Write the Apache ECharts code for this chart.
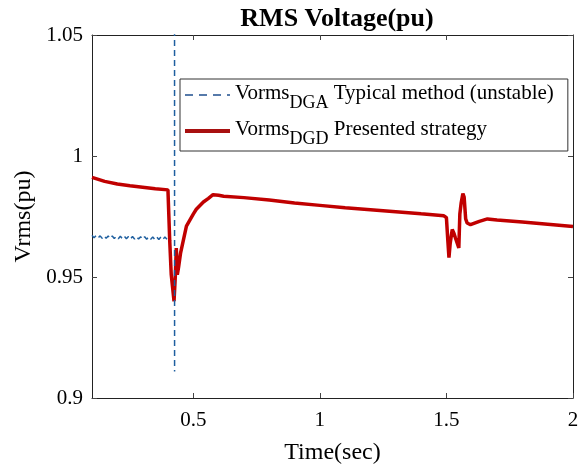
<!DOCTYPE html>
<html>
<head>
<meta charset="utf-8">
<script src="https://cdn.jsdelivr.net/npm/echarts@6/dist/echarts.min.js"></script>
<style>
html,body{margin:0;padding:0;background:#fff;}
#c{width:583px;height:470px;}
</style>
</head>
<body>
<div id="c"></div>
<script>
// ---- data ----
var xTicks = [0.5, 1, 1.5, 2];
var yTicks = [0.9, 0.95, 1, 1.05];

// Typical method (unstable): steady sawtooth, then divergence
var blueTime = [0.100,0.108,0.116,0.124,0.132,0.140,0.148,0.156,0.164,0.172,
                0.180,0.188,0.196,0.204,0.212,0.220,0.228,0.236,0.244,0.252,
                0.260,0.268,0.276,0.284,0.292,0.300,0.308,0.316,0.324,0.332,
                0.340,0.348,0.356,0.364,0.372,0.380,0.388,0.396];
var blueVolt = [0.9672,0.9662,0.9671,0.9661,0.9670,0.9660,0.9670,0.9660,0.9669,0.9659,
                0.9669,0.9659,0.9668,0.9658,0.9668,0.9658,0.9668,0.9658,0.9667,0.9657,
                0.9667,0.9657,0.9667,0.9657,0.9666,0.9656,0.9666,0.9656,0.9666,0.9656,
                0.9665,0.9655,0.9665,0.9655,0.9665,0.9655,0.9665,0.9656];
var blueSpikeTime = [0.4258, 0.4262];
var blueSpikeVolt = [1.30, 0.911];

// Presented strategy
var redTime = [0.10,0.15,0.20,0.25,0.30,0.35,0.40,0.402,0.407,0.413,0.419,0.424,0.429,0.433,0.437,0.442,
               0.45,0.473,0.50,0.512,0.54,0.56,0.578,0.60,0.62,0.70,0.80,0.90,1.00,1.10,1.20,1.30,1.40,
               1.49,1.50,1.505,1.51,1.515,1.523,1.53,1.536,1.542,1.549,1.553,1.558,1.565,1.570,1.576,
               1.582,1.595,1.63,1.662,1.70,1.80,1.90,2.00];
var redVolt = [0.9912,0.9895,0.9884,0.9877,0.9871,0.9865,0.9860,0.9860,0.9650,0.9510,0.9450,0.9400,0.9500,0.9620,0.9510,0.9540,
               0.9600,0.9710,0.9760,0.9780,0.9810,0.9825,0.9840,0.9838,0.9834,0.9828,0.9818,0.9806,0.9796,0.9786,0.9778,0.9770,0.9761,
               0.9753,0.9745,0.9660,0.9580,0.9640,0.9696,0.9680,0.9660,0.9665,0.9620,0.9760,0.9804,0.9845,0.9830,0.9740,
               0.9723,0.9716,0.9730,0.9740,0.9736,0.9727,0.9718,0.9709];

function pairs(t, v) { return t.map(function (x, i) { return [x, v[i]]; }); }

var blueData = pairs(blueTime, blueVolt).concat([[0.41, '-']]).concat(pairs(blueSpikeTime, blueSpikeVolt));
var redData = pairs(redTime, redVolt);

var FONT = 'Liberation Serif';
var chart = echarts.init(document.getElementById('c'), null, {renderer: 'canvas'});

var axisLineStyle = {show: true, lineStyle: {color: '#222', width: 1}};
var tickStyle = {inside: true, length: 5, lineStyle: {color: '#444', width: 1}};

chart.setOption({
  animation: false,
  backgroundColor: '#fff',
  title: {
    text: 'RMS Voltage(pu)',
    left: 332, top: 1, textAlign: 'center',
    textStyle: {fontFamily: FONT, fontSize: 26, fontWeight: 'bold', color: '#000'}
  },
  grid: {left: 92, right: 10, top: 35, bottom: 70, containLabel: false},
  legend: {
    orient: 'vertical', left: 180, top: 79,
    padding: [4, 14, 3, 3], itemGap: 7, itemWidth: 45, itemHeight: 14,
    borderColor: '#333', borderWidth: 1, backgroundColor: '#fff',
    itemStyle: {opacity: 0},
    data: [
      {name: 'DGA', lineStyle: {width: 1.5, type: [8, 6], color: '#1f4f8f'}},
      {name: 'DGD', lineStyle: {width: 4, color: '#a81010'}}
    ],
    formatter: function (name) {
      return name === 'DGA'
        ? '{m|Vorms}{s|DGA}{m| Typical method (unstable)}'
        : '{m|Vorms}{s|DGD}{m| Presented strategy}';
    },
    textStyle: {
      fontFamily: FONT, color: '#000',
      rich: {
        m: {fontFamily: FONT, fontSize: 21, lineHeight: 24, verticalAlign: 'top', color: '#000'},
        s: {fontFamily: FONT, fontSize: 18, lineHeight: 18, padding: [11, 0, 0, 0], verticalAlign: 'top', color: '#000'}
      }
    }
  },
  xAxis: [{
    type: 'value', min: 0.1, max: 2, position: 'bottom',
    name: 'Time(sec)', nameLocation: 'middle', nameGap: 43,
    nameTextStyle: {fontFamily: FONT, fontSize: 24, color: '#000'},
    axisLine: axisLineStyle,
    axisTick: Object.assign({customValues: xTicks}, tickStyle),
    axisLabel: {customValues: xTicks, margin: 12, fontFamily: FONT, fontSize: 21, color: '#000'},
    splitLine: {show: false}
  }, {
    type: 'value', min: 0.1, max: 2, position: 'top',
    axisLine: axisLineStyle,
    axisTick: Object.assign({customValues: xTicks}, tickStyle),
    axisLabel: {show: false},
    splitLine: {show: false}
  }],
  yAxis: [{
    type: 'value', min: 0.9, max: 1.05, interval: 0.05, position: 'left',
    name: 'Vrms(pu)', nameLocation: 'middle', nameGap: 50,
    nameTextStyle: {fontFamily: FONT, fontSize: 24, color: '#000'},
    axisLine: axisLineStyle,
    axisTick: tickStyle,
    axisLabel: {margin: 9, fontFamily: FONT, fontSize: 21, color: '#000'},
    splitLine: {show: false}
  }, {
    type: 'value', min: 0.9, max: 1.05, interval: 0.05, position: 'right',
    axisLine: axisLineStyle,
    axisTick: tickStyle,
    axisLabel: {show: false},
    splitLine: {show: false}
  }],
  series: [{
    name: 'DGD', type: 'line', data: redData, symbol: 'none', z: 2,
    lineStyle: {color: '#c00000', width: 3.5},
    itemStyle: {color: '#c00000'}
  }, {
    name: 'DGA', type: 'line', data: blueData, symbol: 'none', z: 3,
    connectNulls: false,
    lineStyle: {color: '#1f5f9f', width: 1.5, type: [6, 4]},
    itemStyle: {color: '#1f5f9f'}
  }]
});
</script>
</body>
</html>
